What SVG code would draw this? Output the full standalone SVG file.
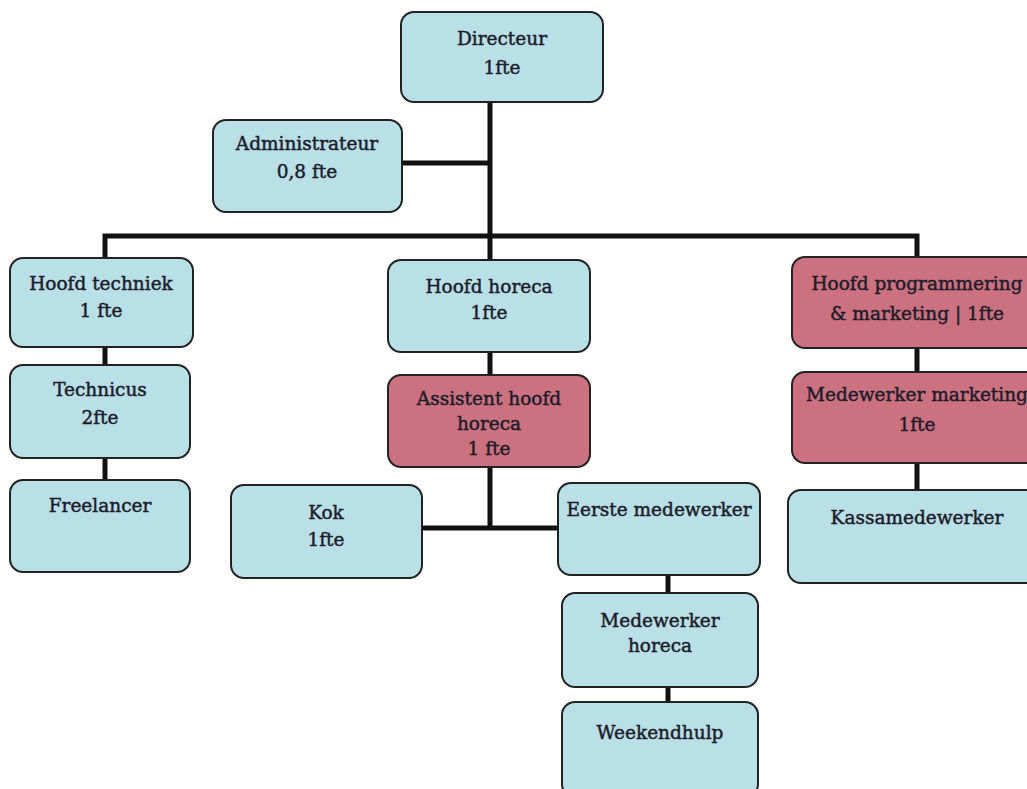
<svg xmlns="http://www.w3.org/2000/svg" width="1027" height="789" viewBox="0 0 1027 789">
<style>
.b{fill:#b9dfe7;stroke:#222;stroke-width:2}
.p{fill:#cc717f;stroke:#222;stroke-width:2}
text{font-family:"DejaVu Serif","Liberation Serif",serif;font-size:18.5px;fill:#1c1c2a;stroke:#1c1c2a;stroke-width:0.45;text-anchor:middle}
.c{stroke:#111;stroke-width:5;fill:none}
</style>
<rect width="1027" height="789" fill="#fff"/>
<g id="connectors">
<path class="c" d="M490 102V528"/>
<path class="c" d="M402 163H490"/>
<path class="c" d="M105 258V236H917V258"/>
<path class="c" d="M105 347V365M105 458V480"/>
<path class="c" d="M422 528H558"/>
<path class="c" d="M668 575V593M668 687V702"/>
<path class="c" d="M917 348V372M917 463V490"/>
</g>
<g id="directeur"><rect class="b" x="401" y="12" width="202" height="90" rx="13"/><text x="502" y="45">Directeur</text><text x="502" y="74">1fte</text></g>
<g id="administrateur"><rect class="b" x="213" y="120" width="189" height="92" rx="13"/><text x="307" y="150">Administrateur</text><text x="307" y="178">0,8 fte</text></g>
<g id="hoofd-techniek"><rect class="b" x="10" y="258" width="183" height="89" rx="13"/><text x="101" y="290">Hoofd techniek</text><text x="101" y="317">1 fte</text></g>
<g id="hoofd-horeca"><rect class="b" x="388" y="260" width="202" height="92" rx="13"/><text x="489" y="293">Hoofd horeca</text><text x="489" y="319">1fte</text></g>
<g id="hoofd-programmering"><rect class="p" x="792" y="257" width="250" height="91" rx="13"/><text x="917" y="290">Hoofd programmering</text><text x="917" y="320">&amp; marketing | 1fte</text></g>
<g id="technicus"><rect class="b" x="10" y="365" width="180" height="93" rx="13"/><text x="100" y="396">Technicus</text><text x="100" y="424">2fte</text></g>
<g id="freelancer"><rect class="b" x="10" y="480" width="180" height="92" rx="13"/><text x="100" y="512">Freelancer</text></g>
<g id="assistent-hoofd-horeca"><rect class="p" x="388" y="375" width="202" height="92" rx="13"/><text x="489" y="405">Assistent hoofd</text><text x="489" y="430">horeca</text><text x="489" y="455">1 fte</text></g>
<g id="medewerker-marketing"><rect class="p" x="792" y="372" width="250" height="91" rx="13"/><text x="917" y="401">Medewerker marketing</text><text x="917" y="431">1fte</text></g>
<g id="kok"><rect class="b" x="231" y="485" width="191" height="93" rx="13"/><text x="326" y="519">Kok</text><text x="326" y="546">1fte</text></g>
<g id="eerste-medewerker"><rect class="b" x="558" y="483" width="202" height="92" rx="13"/><text x="659" y="516">Eerste medewerker</text></g>
<g id="kassamedewerker"><rect class="b" x="788" y="490" width="254" height="93" rx="13"/><text x="917" y="524">Kassamedewerker</text></g>
<g id="medewerker-horeca"><rect class="b" x="562" y="593" width="196" height="94" rx="13"/><text x="660" y="627">Medewerker</text><text x="660" y="652">horeca</text></g>
<g id="weekendhulp"><rect class="b" x="562" y="702" width="196" height="95" rx="13"/><text x="660" y="739">Weekendhulp</text></g>
</svg>
